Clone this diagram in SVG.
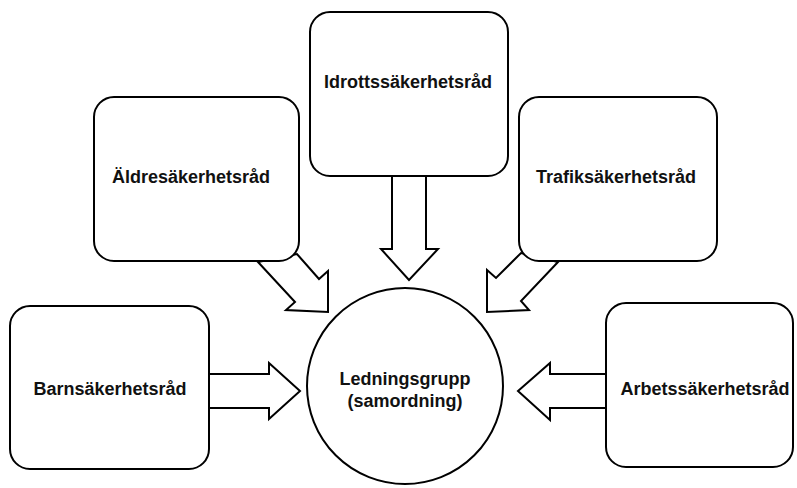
<svg xmlns="http://www.w3.org/2000/svg" width="797" height="488" viewBox="0 0 797 488">
<style>
.b{fill:#fff;stroke:#000;stroke-width:2}
.a{fill:#fff;stroke:#000;stroke-width:2;stroke-linejoin:miter}
text{font-family:"Liberation Sans",Arial,sans-serif;font-weight:bold;font-size:18px;text-anchor:middle;fill:#111}
</style>
<rect width="797" height="488" fill="#fff"/>
<g id="connectors">
<polygon class="a" points="392,176 392,249 381,249 409,280 438,249 426,249 426,176"/>
<polygon class="a" points="209,374 269,374 269,363 300,391 269,419 269,408 209,408"/>
<polygon class="a" points="606,374 550,374 550,363 518,391 550,420 550,408 606,408"/>
<polygon class="a" points="258,262 295,302 286,310 328,312 328,271 319,279 297,254"/>
<polygon class="a" points="558,262 521,301 529,310 487,312 487,270 496,278 521,253"/>
</g>
<g id="idrott"><rect class="b" x="310" y="12" width="198" height="164" rx="20"/><text x="408" y="88">Idrottssäkerhetsråd</text></g>
<g id="aldre"><rect class="b" x="94" y="97" width="205" height="164" rx="20"/><text x="191" y="183">Äldresäkerhetsråd</text></g>
<g id="trafik"><rect class="b" x="519" y="97" width="198" height="164" rx="20"/><text x="616" y="183">Trafiksäkerhetsråd</text></g>
<g id="barn"><rect class="b" x="10" y="306" width="199" height="163" rx="20"/><text x="110" y="395">Barnsäkerhetsråd</text></g>
<g id="arbets"><rect class="b" x="606" y="303" width="187" height="164" rx="20"/><text x="705" y="395">Arbetssäkerhetsråd</text></g>
<g id="ledning"><circle class="b" cx="405" cy="386" r="98"/><text x="405" y="385">Ledningsgrupp</text><text x="405" y="407">(samordning)</text></g>
</svg>
